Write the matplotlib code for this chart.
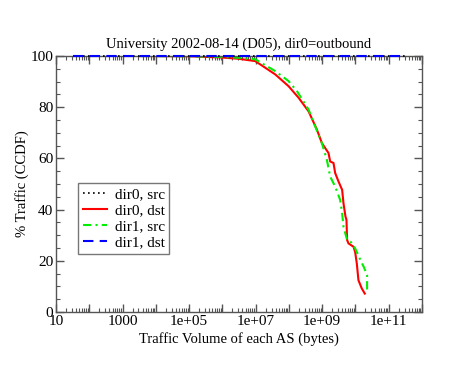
import numpy as np
import matplotlib.pyplot as plt
from matplotlib.ticker import LogLocator, FixedLocator, MultipleLocator, NullFormatter

plt.rcParams['font.family'] = ['Liberation Serif', 'DejaVu Serif']
plt.rcParams['mathtext.fontset'] = 'stix'

# log10 of traffic volume, percent of traffic (CCDF)
red_logx = [3.5, 5.0, 6.0, 6.5, 6.99, 7.59, 7.99, 8.29, 8.59, 8.84, 8.99, 9.19, 9.24,
            9.34, 9.39, 9.49, 9.60, 9.64, 9.70, 9.73, 9.75, 9.79, 9.94, 9.99, 10.04,
            10.09, 10.19, 10.28]
red_y = [100, 99.9, 99.4, 98.9, 98.0, 92.8, 88.2, 83.7, 78.4, 71.3, 66.0, 62.1, 58.8,
         58.2, 54.3, 51.0, 47.7, 42.5, 37.3, 36.0, 28.1, 26.8, 25.5, 23.5, 19.0,
         12.4, 9.2, 7.2]

green_logx = [3.5, 5.0, 6.0, 6.5, 6.99, 7.59, 7.99, 8.24, 8.59, 8.79, 8.99, 9.14, 9.24,
              9.39, 9.54, 9.60, 9.64, 9.75, 9.85, 9.99, 10.15, 10.25, 10.35, 10.35]
green_y = [100, 99.9, 99.6, 99.3, 98.7, 94.1, 90.2, 86.3, 79.1, 72.5, 66.0, 59.5, 52.9,
           49.0, 43.8, 38.6, 33.3, 28.1, 27.5, 24.9, 20.3, 17.6, 14.4, 7.2]

flat_logx = [1.52, 11.5]
flat_y = [100, 100]

fig = plt.figure(figsize=(4.75, 3.67), dpi=100)
ax = fig.add_axes([56 / 475, 1 - 312 / 367, 366 / 475, 256 / 367])

ax.plot(10 ** np.array(flat_logx), flat_y, color='black', ls=(0, (1, 2)), lw=1.2,
        label='dir0, src', clip_on=False, zorder=3)
ax.plot(10 ** np.array(red_logx), red_y, color='#ff0000', ls='-', lw=1.5, label='dir0, dst')
ax.plot(10 ** np.array(green_logx), green_y, color='#00ee00', ls=(0, (4, 2, 1, 2)), lw=1.5,
        label='dir1, src')
ax.plot(10 ** np.array(flat_logx), flat_y, color='#0000ff', ls=(0, (5, 3)), lw=1.5,
        label='dir1, dst', clip_on=False, zorder=4)

ax.set_xscale('log')
ax.set_xlim(10, 1e12)
ax.set_ylim(0, 100)

labels = {1: '10', 3: '1000', 5: '1e+05', 7: '1e+07', 9: '1e+09', 11: '1e+11'}
ax.set_xticks([10.0 ** k for k in range(1, 13)])
ax.set_xticklabels([labels.get(k, '') for k in range(1, 13)])
ax.xaxis.set_minor_locator(LogLocator(base=10, subs=np.arange(2, 10), numticks=50))
ax.xaxis.set_minor_formatter(NullFormatter())
ax.yaxis.set_major_locator(MultipleLocator(20))
ax.yaxis.set_minor_locator(MultipleLocator(5))

ax.tick_params(which='both', direction='in', top=True, right=True, colors='#555555',
               labelcolor='black', labelsize=11)
ax.tick_params(which='major', length=6, width=1)
ax.tick_params(which='minor', length=3, width=0.8)
ax.tick_params(axis='x', pad=2)
ax.tick_params(axis='y', pad=2)
for s in ax.spines.values():
    s.set_color('#555555')
    s.set_linewidth(1)

ax.set_title('University 2002-08-14 (D05), dir0=outbound', fontsize=10.5, pad=6)
ax.set_xlabel('Traffic Volume of each AS (bytes)', fontsize=10.5, labelpad=3)
ax.set_ylabel('% Traffic (CCDF)', fontsize=10.5, labelpad=1)

leg = ax.legend(loc='upper left', bbox_to_anchor=(22 / 366, 129 / 256), fontsize=11,
                frameon=True, fancybox=False, handlelength=1.6, handletextpad=0.5,
                borderpad=0.3, labelspacing=0.15, borderaxespad=0)
leg.get_frame().set_edgecolor('#555555')
leg.get_frame().set_linewidth(1)

fig.savefig('out.png', dpi=100)
